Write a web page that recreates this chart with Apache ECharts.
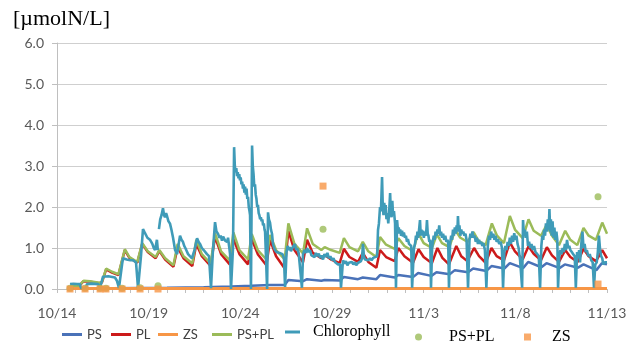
<!DOCTYPE html>
<html>
<head>
<meta charset="utf-8">
<script src="https://cdn.jsdelivr.net/npm/echarts@6/dist/echarts.min.js"></script>
<style>
html,body{margin:0;padding:0;background:#fff;}
#chart{width:635px;height:344px;}
</style>
</head>
<body>
<div id="chart"></div>
<script>
// x = days since 10/14 00:00
const xTickLabels = ['10/14','10/19','10/24','10/29','11/3','11/8','11/13'];
const yUnit = '[\u00b5molN/L]';

const psData = [[0.71,0.01],[3,0.02],[6,0.03],[8,0.04],[9.5,0.06],[10.6,0.08],[11.6,0.1],[12.42,0.1],[12.62,0.22],[13.42,0.19],[13.64,0.24],[14.42,0.2],[14.6,0.22],[15.42,0.21],[15.65,0.29],[16.42,0.24],[16.68,0.28],[17.42,0.24],[17.62,0.34],[18.42,0.28],[18.62,0.34],[19.42,0.29],[19.7,0.39],[20.42,0.32],[20.7,0.41],[21.42,0.36],[21.7,0.46],[22.42,0.41],[22.7,0.5],[23.42,0.44],[23.7,0.56],[24.4,0.5],[24.7,0.63],[25.42,0.51],[25.7,0.66],[26.42,0.53],[26.7,0.63],[27.42,0.51],[27.7,0.6],[28.42,0.52],[28.72,0.6],[29.42,0.46],[29.72,0.63],[30.0,0.6]];

const plData = [[0.71,0.07],[1.2,0.07],[1.45,0.19],[1.8,0.18],[2.3,0.14],[2.45,0.16],[2.68,0.48],[3.0,0.4],[3.35,0.34],[3.7,0.95],[3.95,0.76],[4.38,0.64],[4.65,1.1],[4.95,0.9],[5.38,0.75],[5.58,0.93],[5.9,0.72],[6.35,0.54],[6.58,1.02],[6.9,0.75],[7.38,0.56],[7.6,1.1],[7.9,0.8],[8.38,0.56],[8.62,1.27],[8.95,0.85],[9.42,0.6],[9.62,1.22],[9.95,0.85],[10.42,0.6],[10.62,1.22],[10.95,0.85],[11.42,0.58],[11.62,1.2],[11.95,0.8],[12.42,0.5],[12.62,1.42],[12.95,0.95],[13.42,0.65],[13.64,1.2],[13.95,0.88],[14.42,0.75],[14.6,0.83],[14.95,0.72],[15.42,0.63],[15.65,0.98],[15.95,0.78],[16.42,0.66],[16.68,0.88],[16.98,0.66],[17.42,0.52],[17.62,0.95],[17.95,0.78],[18.42,0.68],[18.62,1.0],[18.95,0.8],[19.42,0.64],[19.72,0.97],[20.0,0.78],[20.45,0.63],[20.75,1.0],[21.02,0.76],[21.38,0.6],[21.78,1.05],[22.05,0.8],[22.38,0.68],[22.75,1.0],[23.02,0.8],[23.38,0.64],[23.7,1.0],[23.98,0.8],[24.38,0.7],[24.7,1.14],[24.98,0.92],[25.4,0.72],[25.72,1.04],[26.0,0.86],[26.4,0.7],[26.72,1.02],[27.0,0.82],[27.38,0.66],[27.72,0.95],[28.0,0.78],[28.4,0.66],[28.72,0.98],[29.0,0.8],[29.4,0.68],[29.74,0.95],[30.0,0.75]];

const zsData = [[0.71,0.01],[10,0.01],[20,0.01],[30,0.01]];

const psplData = [[0.71,0.08],[1.2,0.08],[1.45,0.2],[1.8,0.19],[2.3,0.15],[2.45,0.17],[2.68,0.5],[3.0,0.42],[3.35,0.36],[3.7,0.97],[3.95,0.78],[4.38,0.66],[4.65,1.12],[4.95,0.92],[5.38,0.78],[5.58,0.95],[5.9,0.75],[6.35,0.58],[6.58,1.1],[6.9,0.8],[7.38,0.62],[7.6,1.2],[7.9,0.85],[8.38,0.62],[8.62,1.36],[8.95,0.92],[9.42,0.7],[9.62,1.38],[9.95,0.95],[10.42,0.72],[10.62,1.34],[10.95,0.95],[11.42,0.72],[11.62,1.32],[11.95,0.95],[12.42,0.72],[12.62,1.6],[12.95,1.1],[13.42,0.87],[13.64,1.48],[13.95,1.1],[14.42,0.95],[14.6,1.02],[14.95,0.95],[15.42,0.88],[15.65,1.24],[15.95,1.02],[16.42,0.92],[16.68,1.15],[16.98,0.92],[17.42,0.78],[17.62,1.27],[17.95,1.08],[18.42,0.98],[18.62,1.24],[18.95,1.05],[19.42,0.92],[19.7,1.37],[20.0,1.12],[20.45,1.0],[20.72,1.33],[21.0,1.12],[21.4,1.02],[21.72,1.44],[22.0,1.25],[22.4,1.15],[22.72,1.39],[23.0,1.17],[23.38,1.07],[23.72,1.6],[24.0,1.3],[24.38,1.12],[24.7,1.78],[24.98,1.45],[25.4,1.24],[25.72,1.7],[26.0,1.42],[26.4,1.3],[26.7,1.56],[27.0,1.3],[27.38,1.07],[27.72,1.42],[28.0,1.2],[28.38,1.07],[28.72,1.49],[29.0,1.3],[29.4,1.2],[29.74,1.62],[30.0,1.35]];

const chlData = [[0.71,0.12],[0.9,0.13],[1.1,0.12],[1.25,0.12],[1.31,0.02],[1.55,0.02],[1.64,0.12],[1.9,0.13],[2.24,0.12],[2.35,0.03],[2.51,0.3],[2.8,0.31],[3.16,0.28],[3.27,0.2],[3.38,0.03],[3.55,0.6],[3.6,0.75],[3.8,0.72],[4.0,0.7],[4.15,0.7],[4.31,0.65],[4.42,0.02],[4.58,0.8],[4.69,1.46],[4.78,1.38],[4.85,1.35],[4.93,1.25],[5.0,1.28],[5.07,1.2],[5.14,1.15],[5.2,1.1],[5.28,1.0],[5.35,0.95],[5.45,1.2],[5.5,0.95],[5.52,'-'],[5.56,1.46],[5.63,1.7],[5.7,1.8],[5.78,1.97],[5.84,1.8],[5.89,1.75],[5.95,1.85],[6.0,1.78],[6.08,1.65],[6.16,1.6],[6.24,1.45],[6.33,1.25],[6.44,0.95],[6.55,0.85],[6.71,1.3],[6.79,1.2],[6.87,1.15],[6.94,1.05],[7.0,1.0],[7.08,0.92],[7.15,0.85],[7.25,0.8],[7.36,0.75],[7.5,0.95],[7.64,1.24],[7.72,1.15],[7.8,1.1],[7.9,1.0],[8.0,0.95],[8.07,0.92],[8.18,0.85],[8.29,0.8],[8.4,0.02],[8.5,0.9],[8.62,1.63],[8.7,1.4],[8.78,1.35],[8.86,1.25],[8.93,1.3],[9.0,1.18],[9.06,1.28],[9.11,1.3],[9.17,1.18],[9.22,1.22],[9.28,1.15],[9.33,1.25],[9.4,1.0],[9.44,0.85],[9.49,0.0],[9.6,1.0],[9.66,3.46],[9.7,3.0],[9.74,2.85],[9.78,2.95],[9.82,2.75],[9.86,2.85],[9.9,2.7],[9.94,2.8],[9.98,2.65],[10.02,2.72],[10.06,2.55],[10.1,2.62],[10.14,2.45],[10.18,2.55],[10.22,2.35],[10.26,2.5],[10.3,2.3],[10.34,2.45],[10.38,2.2],[10.42,2.25],[10.46,2.0],[10.5,1.9],[10.53,1.8],[10.58,0.0],[10.64,3.5],[10.68,3.0],[10.72,2.8],[10.76,2.5],[10.8,2.55],[10.84,2.3],[10.88,2.2],[10.92,2.0],[10.96,2.05],[11.0,1.85],[11.04,1.8],[11.08,1.7],[11.12,1.75],[11.16,1.65],[11.2,1.7],[11.24,1.55],[11.28,1.6],[11.32,1.45],[11.35,1.4],[11.46,0.0],[11.51,1.87],[11.56,1.7],[11.62,1.62],[11.67,1.45],[11.73,1.34],[11.78,1.1],[11.84,1.0],[11.89,0.95],[11.97,0.9],[12.05,0.93],[12.14,0.88],[12.22,0.92],[12.3,0.85],[12.38,0.75],[12.44,0.05],[12.52,0.9],[12.58,1.05],[12.64,0.95],[12.7,1.02],[12.76,0.92],[12.82,0.98],[12.9,1.05],[12.98,1.1],[13.04,0.95],[13.1,1.0],[13.18,0.88],[13.26,0.85],[13.36,0.03],[13.42,0.85],[13.5,0.95],[13.58,0.88],[13.64,1.0],[13.72,0.9],[13.8,0.95],[13.88,0.82],[13.96,0.85],[14.05,0.78],[14.12,0.88],[14.2,0.8],[14.28,0.86],[14.35,0.76],[14.43,0.82],[14.51,0.72],[14.59,0.85],[14.67,0.78],[14.75,0.88],[14.83,0.75],[14.91,0.8],[15.0,0.7],[15.08,0.75],[15.16,0.66],[15.25,0.68],[15.33,0.6],[15.44,0.6],[15.49,0.03],[15.6,0.7],[15.68,0.62],[15.76,0.68],[15.84,0.58],[15.92,0.64],[16.0,0.6],[16.08,0.66],[16.16,0.6],[16.24,0.65],[16.32,0.58],[16.4,0.63],[16.5,0.6],[16.58,0.68],[16.64,0.75],[16.69,1.1],[16.74,0.8],[16.8,0.72],[16.9,0.76],[16.98,0.7],[17.07,0.75],[17.16,0.7],[17.25,0.76],[17.35,0.72],[17.46,0.8],[17.51,1.44],[17.56,1.6],[17.62,2.0],[17.67,1.9],[17.73,2.73],[17.77,2.0],[17.81,1.8],[17.85,2.1],[17.89,1.9],[17.93,2.05],[17.97,1.7],[18.02,1.85],[18.07,1.6],[18.12,1.9],[18.17,2.34],[18.21,1.85],[18.25,1.75],[18.29,2.15],[18.33,1.8],[18.38,1.9],[18.44,1.6],[18.49,0.03],[18.55,1.68],[18.6,1.4],[18.64,1.5],[18.68,1.35],[18.72,1.45],[18.77,1.3],[18.82,1.42],[18.87,1.28],[18.92,1.38],[18.98,1.25],[19.03,1.3],[19.09,1.15],[19.14,1.22],[19.2,1.1],[19.26,1.12],[19.32,1.05],[19.37,0.03],[19.47,1.0],[19.53,1.1],[19.58,1.3],[19.62,1.2],[19.66,1.4],[19.7,1.25],[19.75,1.45],[19.8,1.68],[19.84,1.3],[19.88,1.45],[19.92,1.3],[19.96,1.42],[20.01,1.25],[20.06,1.4],[20.1,1.3],[20.15,1.45],[20.18,1.68],[20.22,1.35],[20.26,1.3],[20.31,1.15],[20.36,1.2],[20.4,0.03],[20.46,1.0],[20.5,1.15],[20.55,1.3],[20.6,1.2],[20.65,1.4],[20.7,1.3],[20.75,1.45],[20.8,1.35],[20.85,1.55],[20.9,1.3],[20.95,1.4],[21.0,1.25],[21.06,1.35],[21.12,1.2],[21.18,1.3],[21.24,1.15],[21.3,1.2],[21.34,1.1],[21.38,0.03],[21.44,1.1],[21.5,1.3],[21.55,1.2],[21.6,1.45],[21.65,1.3],[21.7,1.5],[21.75,1.35],[21.8,1.55],[21.84,1.4],[21.87,1.78],[21.91,1.4],[21.95,1.55],[22.0,1.3],[22.05,1.45],[22.1,1.35],[22.16,1.4],[22.22,1.3],[22.28,1.35],[22.34,1.2],[22.42,0.03],[22.5,1.2],[22.55,1.35],[22.6,1.25],[22.66,1.4],[22.72,1.25],[22.78,1.3],[22.84,1.15],[22.9,1.25],[22.96,1.1],[23.02,1.2],[23.08,1.1],[23.14,1.15],[23.2,1.05],[23.26,1.12],[23.34,0.95],[23.42,0.03],[23.5,1.05],[23.56,1.3],[23.62,1.2],[23.68,1.4],[23.74,1.25],[23.8,1.35],[23.86,1.2],[23.92,1.3],[23.98,1.15],[24.05,1.22],[24.12,1.1],[24.2,1.15],[24.27,1.0],[24.33,0.03],[24.4,0.9],[24.46,1.05],[24.52,0.95],[24.58,1.15],[24.64,1.05],[24.7,1.25],[24.76,1.1],[24.82,1.3],[24.88,1.15],[24.94,1.36],[25.0,1.2],[25.06,1.3],[25.12,1.1],[25.18,1.0],[25.26,0.7],[25.37,0.03],[25.42,1.68],[25.47,1.3],[25.52,1.45],[25.57,1.25],[25.63,1.4],[25.69,1.05],[25.75,1.15],[25.81,1.0],[25.88,1.1],[25.95,0.95],[26.02,1.05],[26.1,0.9],[26.2,0.85],[26.28,0.8],[26.35,0.03],[26.42,1.05],[26.47,1.3],[26.52,1.2],[26.57,1.45],[26.62,1.3],[26.67,1.6],[26.72,1.4],[26.77,1.7],[26.82,1.45],[26.86,1.95],[26.9,1.4],[26.94,1.7],[26.98,1.3],[27.03,1.65],[27.08,1.25],[27.13,1.5],[27.18,1.2],[27.24,1.4],[27.29,1.2],[27.33,0.03],[27.4,0.8],[27.46,0.95],[27.52,0.85],[27.58,1.0],[27.64,0.9],[27.7,1.1],[27.76,0.95],[27.82,1.2],[27.88,1.0],[27.94,1.05],[28.0,0.95],[28.08,0.9],[28.16,0.85],[28.24,0.8],[28.3,0.03],[28.37,0.9],[28.42,0.75],[28.48,0.95],[28.53,0.65],[28.6,1.1],[28.66,1.4],[28.72,1.0],[28.78,1.1],[28.84,0.9],[28.9,0.95],[28.98,0.8],[29.06,0.85],[29.14,0.7],[29.22,0.65],[29.29,0.03],[29.36,0.6],[29.44,0.65],[29.5,0.9],[29.56,1.3],[29.62,0.97],[29.68,0.8],[29.74,0.75],[29.8,0.6],[29.88,0.65],[29.95,0.62],[30.0,0.65]];

const psplObs = [[0.71,0.02],[1.53,0.02],[2.35,0.02],[2.67,0.02],[3.55,0.02],[4.53,0.03],[5.51,0.08],[14.51,1.46],[29.51,2.25]];
const zsObs = [[0.71,0.0],[1.53,0.0],[2.35,0.0],[2.67,0.0],[3.55,0.0],[4.53,0.0],[5.51,0.0],[14.51,2.51],[29.51,0.12]];

const C = {ps:'#4a72b8', pl:'#cc1a1a', zs:'#f79646', pspl:'#9bbb59', chl:'#3f9bb8'};
const sansTxt = {fontFamily:'Lato', fontSize:13, color:'#404040'};
const serifTxt = {fontFamily:'Liberation Serif', fontSize:16, color:'#000'};

function lineLegend(name, left, w, top, txt) {
  return {data:[name], left:left, top:top, itemWidth:w, itemHeight:3, itemGap:0, padding:0, icon:'rect', textStyle:txt};
}

const chart = echarts.init(document.getElementById('chart'), null, {renderer:'canvas'});
chart.setOption({
  animation:false,
  title:{text:yUnit, left:8, top:3, textStyle:{fontFamily:'Liberation Serif', fontSize:22, fontWeight:'normal', color:'#000'}},
  grid:{left:57, right:28, top:43, bottom:55, containLabel:false},
  legend:[
    lineLegend('PS', 62, 20, 328, sansTxt),
    lineLegend('PL', 111, 20, 328, sansTxt),
    lineLegend('ZS', 158, 20, 328, sansTxt),
    lineLegend('PS+PL', 212, 20, 328, sansTxt),
    lineLegend('Chlorophyll', 285, 15, 324, Object.assign({}, serifTxt, {padding:[0,0,0,8]})),
    {data:[' PS+PL'], left:415, top:329, itemWidth:7, itemHeight:7, padding:0, icon:'circle', textStyle:Object.assign({}, serifTxt, {padding:[0,0,0,18]})},
    {data:[' ZS'], left:524, top:329, itemWidth:7, itemHeight:7, padding:0, icon:'rect', textStyle:Object.assign({}, serifTxt, {padding:[0,0,0,12]})}
  ],
  xAxis:{
    type:'value', min:0, max:30, interval:5,
    axisLine:{lineStyle:{color:'#bfbfbf', width:1}},
    axisTick:{show:true, length:4, lineStyle:{color:'#bfbfbf'}},
    minorTick:{show:true, splitNumber:5, length:4, lineStyle:{color:'#bfbfbf'}},
    splitLine:{show:false},
    axisLabel:{fontFamily:'Lato', fontSize:14, color:'#595959', margin:17, formatter:function(v){return xTickLabels[Math.round(v/5)];}}
  },
  yAxis:{
    type:'value', min:0, max:6, interval:1,
    axisLine:{show:true, lineStyle:{color:'#bfbfbf'}},
    axisTick:{show:true, length:5, lineStyle:{color:'#bfbfbf'}},
    splitLine:{lineStyle:{color:'#cfcfcf', width:1}},
    axisLabel:{fontFamily:'Lato', fontSize:14, color:'#595959', margin:13, formatter:function(v){return v.toFixed(1);}}
  },
  series:[
    {name:'PS', type:'line', data:psData, symbol:'none', lineStyle:{color:C.ps, width:2.5}, itemStyle:{color:C.ps}, z:2},
    {name:'PL', type:'line', data:plData, symbol:'none', lineStyle:{color:C.pl, width:2.5}, itemStyle:{color:C.pl}, z:2},
    {name:'ZS', type:'line', data:zsData, symbol:'none', lineStyle:{color:C.zs, width:3}, itemStyle:{color:C.zs}, z:2},
    {name:'PS+PL', type:'line', data:psplData, symbol:'none', lineStyle:{color:C.pspl, width:2.5}, itemStyle:{color:C.pspl}, z:2},
    {name:'Chlorophyll', type:'line', data:chlData, symbol:'none', connectNulls:false, lineStyle:{color:C.chl, width:2.6}, itemStyle:{color:C.chl}, z:3},
    {name:' PS+PL', type:'scatter', data:psplObs, symbol:'circle', symbolSize:7, itemStyle:{color:C.pspl}, z:4},
    {name:' ZS', type:'scatter', data:zsObs, symbol:'rect', symbolSize:7, itemStyle:{color:C.zs}, z:5}
  ]
});
</script>
</body>
</html>
